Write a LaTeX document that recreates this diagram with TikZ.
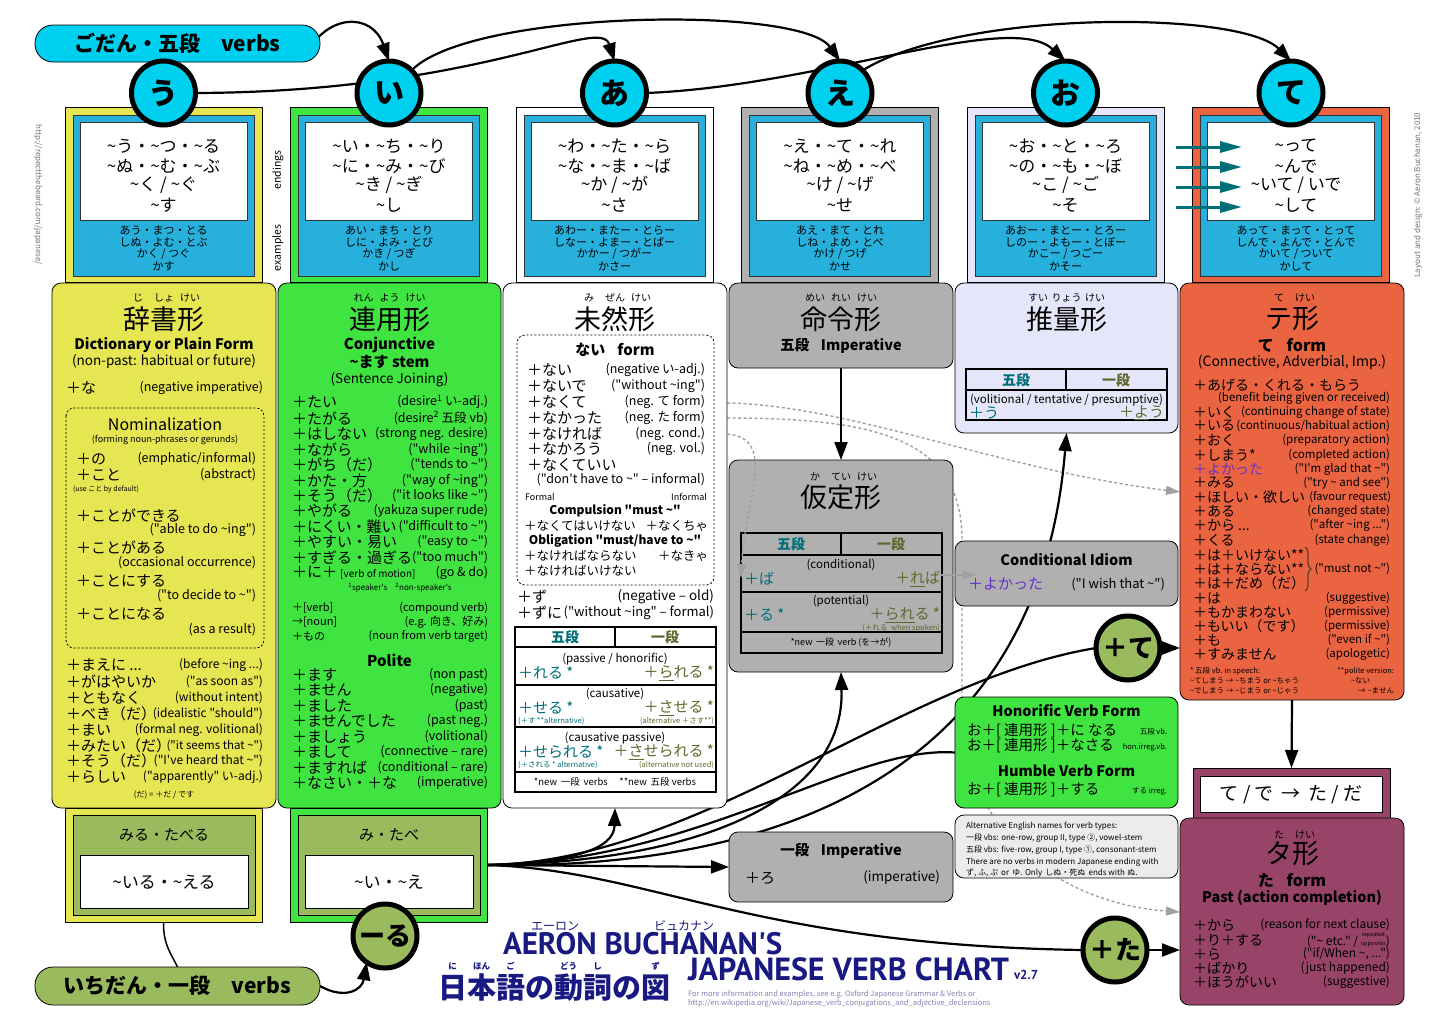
\documentclass[tikz,border=0pt]{standalone}
\usepackage{fontspec}
\setmainfont{Noto Sans CJK JP}[Ligatures=TeXOff]
\newfontfamily\ttl{PT Sans}[Ligatures=TeXOff]
\usetikzlibrary{arrows.meta,decorations.pathreplacing,calc}
\newcommand\fs[1]{\fontsize{#1}{#1}\selectfont}
\newcommand\tld{\textasciitilde}
\definecolor{cyanc}{RGB}{0,208,240}
\definecolor{bluef}{RGB}{40,176,220}
\definecolor{yel}{RGB}{230,230,82}
\definecolor{grn}{RGB}{64,228,64}
\definecolor{gry}{RGB}{176,176,176}
\definecolor{lav}{RGB}{230,230,250}
\definecolor{org}{RGB}{235,100,66}
\definecolor{mar}{RGB}{152,68,104}
\definecolor{oli}{RGB}{153,187,94}
\definecolor{tealc}{RGB}{0,110,120}
\definecolor{olt}{RGB}{95,105,45}
\definecolor{pur}{RGB}{100,50,200}
\definecolor{navy}{RGB}{25,25,130}
\definecolor{altg}{RGB}{236,236,236}
\definecolor{dgray}{RGB}{160,160,160}
\definecolor{urlc}{RGB}{130,130,180}
\pgfdeclarelayer{back}\pgfdeclarelayer{bg}\pgfsetlayers{back,bg,main}
\tikzset{
 every node/.style={inner sep=0pt,outer sep=0pt},
 lt/.style={anchor=west}, rt/.style={anchor=east},
 jl/.style={anchor=west,font=\fs{15}}, er/.style={anchor=east,font=\fs{12.5}},
 mbox/.style={draw=black,line width=0.8pt,rounded corners=9pt,anchor=north west},
 frame/.style={draw=black,line width=0.7pt,anchor=north west},
 circ/.style={circle,draw=black,line width=5pt,fill=cyanc,minimum size=64pt,font=\fs{30}\bfseries},
 gcirc/.style={circle,draw=black,line width=5pt,fill=oli,minimum size=64pt,font=\fs{26}\bfseries},
 conn/.style={draw=black,line width=2.2pt,-{Triangle[length=18pt,width=13pt]}},
 plainc/.style={draw=black,line width=2.2pt},
 dgl/.style={draw=dgray,line width=1.4pt,dash pattern=on 3pt off 2.5pt,-{Triangle[length=14pt,width=9pt,fill=dgray]}},
 ruby/.style={font=\fs{10}},
 kanji/.style={font=\fs{27}},
 hd/.style={font=\fs{14.5}\bfseries},
 tarrow/.style={draw=tealc,line width=3pt,-{Triangle[length=22pt,width=11pt]}}
}
\newcommand\topbox[3]{%
 \node[frame,fill=#3,minimum width=197pt,minimum height=175pt] (#1) at (#2,107) {};
 \node[frame,draw=black!80,line width=0.6pt,fill=bluef,minimum width=181pt,minimum height=161pt] (#1b) at ({#2+8},115) {};
 \node[frame,draw=black!80,line width=0.6pt,fill=white,minimum width=167pt,minimum height=98pt] (#1w) at ({#2+15},122) {};}
\newcommand\colends[9]{%
 \node[font=\fs{17}] at (#1,146) {#2};
 \node[font=\fs{17}] at (#1,166) {#3};
 \node[font=\fs{17}] at (#1,185) {#4};
 \node[font=\fs{17}] at (#1,205) {#5};
 \node[font=\fs{11}] at (#1,230) {#6};
 \node[font=\fs{11}] at (#1,242) {#7};
 \node[font=\fs{11}] at (#1,254) {#8};
 \node[font=\fs{11}] at (#1,266) {#9};}
\begin{document}
\begin{tikzpicture}[x=1pt,y=-1pt,font=\fs{13}]
\useasboundingbox (0,0) rectangle (1456,1029);
\begin{pgfonlayer}{back}\fill[white] (0,0) rectangle (1456,1029);\end{pgfonlayer}

% ---------- top frames ----------
\topbox{t1}{65}{yel}
\topbox{t2}{290.5}{grn}
\topbox{t3}{516}{white}
\topbox{t4}{741.5}{gry}
\topbox{t5}{967}{lav}
\topbox{t6}{1192.5}{org}
\colends{163.5}{\tld{}う・\tld{}つ・\tld{}る}{\tld{}ぬ・\tld{}む・\tld{}ぶ}{\tld{}く / \tld{}ぐ}{\tld{}す}{あう・まつ・とる}{しぬ・よむ・とぶ}{かく / つぐ}{かす}
\colends{389}{\tld{}い・\tld{}ち・\tld{}り}{\tld{}に・\tld{}み・\tld{}び}{\tld{}き / \tld{}ぎ}{\tld{}し}{あい・まち・とり}{しに・よみ・とび}{かき / つぎ}{かし}
\colends{614.5}{\tld{}わ・\tld{}た・\tld{}ら}{\tld{}な・\tld{}ま・\tld{}ば}{\tld{}か / \tld{}が}{\tld{}さ}{あわー・またー・とらー}{しなー・よまー・とばー}{かかー / つがー}{かさー}
\colends{840}{\tld{}え・\tld{}て・\tld{}れ}{\tld{}ね・\tld{}め・\tld{}べ}{\tld{}け / \tld{}げ}{\tld{}せ}{あえ・まて・とれ}{しね・よめ・とべ}{かけ / つげ}{かせ}
\colends{1065.5}{\tld{}お・\tld{}と・\tld{}ろ}{\tld{}の・\tld{}も・\tld{}ぼ}{\tld{}こ / \tld{}ご}{\tld{}そ}{あおー・まとー・とろー}{しのー・よもー・とぼー}{かこー / つごー}{かそー}
\colends{1296}{\tld{}って}{\tld{}んで}{\tld{}いて / いで}{\tld{}して}{あって・まって・とって}{しんで・よんで・とんで}{かいて / ついて}{かして}

% side texts
\node[rotate=-90,font=\fs{8},text=black!55] (url) at (38,195) {http://repectthebeard.com/japanese/};
\node[rotate=90,font=\fs{10.5}] (endl) at (278,170) {endings};
\node[rotate=90,font=\fs{10.5}] (exl) at (278,248) {examples};
\node[rotate=90,font=\fs{8},text=black!55] (cpy) at (1418,195) {Layout and design: © Aeron Buchanan, 2010};

% ---------- pills ----------
\node[draw=black,line width=0.8pt,fill=cyanc,rounded corners=18pt,minimum width=285pt,minimum height=37pt,font=\fs{21}\bfseries] (godan) at (177.5,43.5) {ごだん・五段\hspace{1em}verbs};
\node[draw=black,line width=0.8pt,fill=oli,rounded corners=18pt,minimum width=285pt,minimum height=38pt,font=\fs{21}\bfseries] (ichi) at (177.5,986) {いちだん・一段\hspace{1em}verbs};

% ---------- main boxes ----------
\node[mbox,fill=yel,minimum width=224pt,minimum height=525pt] (jisho) at (52,283) {};
\node[mbox,fill=grn,minimum width=223pt,minimum height=525pt] (renyo) at (278,283) {};
\node[mbox,fill=white,minimum width=224pt,minimum height=525pt] (mizen) at (503,283) {};
\node[mbox,fill=gry,minimum width=224pt,minimum height=85pt] (meirei) at (729,283) {};
\node[mbox,fill=gry,minimum width=224pt,minimum height=212pt] (katei) at (729,460) {};
\node[mbox,fill=lav,minimum width=223pt,minimum height=150pt] (suiryo) at (955,283) {};
\node[mbox,fill=org,minimum width=224pt,minimum height=417pt] (te6) at (1180,283) {};
\node[mbox,fill=gry,minimum width=223pt,minimum height=65pt] (cond) at (955,541) {};
\node[mbox,fill=grn,minimum width=223pt,minimum height=111pt] (hon) at (955,697) {};
\node[mbox,fill=altg,minimum width=223pt,minimum height=63pt] (alt) at (955,815) {};
\node[mbox,fill=gry,minimum width=224pt,minimum height=70pt] (imp) at (729,832) {};
\node[frame,fill=mar,minimum width=197pt,minimum height=56pt] (tapre) at (1193,768) {};
\node[frame,fill=white,minimum width=182pt,minimum height=36pt] (taprew) at (1200,776) {};
\node[mbox,fill=mar,minimum width=224pt,minimum height=187pt] (ta) at (1180,818) {};

% bottom ichidan frames
\node[frame,fill=yel,minimum width=197pt,minimum height=114pt] (b1) at (65,808) {};
\node[frame,fill=oli,minimum width=182pt,minimum height=100pt] (b1o) at (73,815) {};
\node[frame,fill=white,minimum width=168pt,minimum height=53pt] (b1w) at (80,855) {};
\node[frame,fill=grn,minimum width=197pt,minimum height=114pt] (b2) at (290,808) {};
\node[frame,fill=oli,minimum width=182pt,minimum height=100pt] (b2o) at (298,815) {};
\node[frame,fill=white,minimum width=168pt,minimum height=53pt] (b2w) at (305,855) {};
\node[font=\fs{15}] at (164,835) {みる・たべる};
\node[font=\fs{17}] at (164,882) {\tld{}いる・\tld{}える};
\node[font=\fs{15}] at (389,835) {み・たべ};
\node[font=\fs{17}] at (389,882) {\tld{}い・\tld{}え};

% ---------- column 1 : 辞書形 ----------
\node[ruby] at (138,298) {じ};\node[ruby] at (164,298) {しょ};\node[ruby] at (190,298) {けい};
\node[kanji] at (164,319) {辞書形};
\node[hd] at (164,345) {Dictionary or Plain Form};
\node[font=\fs{13.5}] at (164,362) {(non-past: habitual or future)};
\node[jl] at (66,388) {＋な};\node[er] at (263,388) {(negative imperative)};
\draw[line width=0.8pt,dash pattern=on 2pt off 2pt,rounded corners=8pt] (66,408) rectangle (264,648);
\node[font=\fs{16}] at (165,424) {Nominalization};
\node[font=\fs{9}] at (165,440) {(forming noun-phrases or gerunds)};
\node[jl] at (76,459) {＋の};\node[er] at (256,459) {(emphatic/informal)};
\node[jl] at (76,475) {＋こと};\node[er] at (256,475) {(abstract)};
\node[lt,font=\fs{7}] at (73,489) {(use こと by default)};
\node[jl] at (76,516) {＋ことができる};\node[er] at (256,530) {("able to do \tld{}ing")};
\node[jl] at (76,548) {＋ことがある};\node[er] at (256,563) {(occasional occurrence)};
\node[jl] at (76,581) {＋ことにする};\node[er] at (256,596) {("to decide to \tld{}")};
\node[jl] at (76,614) {＋ことになる};\node[er] at (256,630) {(as a result)};
\node[jl] at (66,665) {＋まえに ...};\node[er,font=\fs{12}] at (263,665) {(before \tld{}ing ...)};
\node[jl] at (66,682) {＋がはやいか};\node[er,font=\fs{12}] at (263,682) {("as soon as")};
\node[jl] at (66,698) {＋ともなく};\node[er,font=\fs{12}] at (263,698) {(without intent)};
\node[jl] at (66,714) {＋べき（だ）};\node[er,font=\fs{12}] at (263,714) {(idealistic "should")};
\node[jl] at (66,730) {＋まい};\node[er,font=\fs{12}] at (263,730) {(formal neg. volitional)};
\node[jl] at (66,746) {＋みたい（だ）};\node[er,font=\fs{11.5}] at (263,746) {("it seems that \tld{}")};
\node[jl] at (66,761) {＋そう（だ）};\node[er,font=\fs{12}] at (263,761) {("I've heard that \tld{}")};
\node[jl] at (66,777) {＋らしい};\node[er,font=\fs{12}] at (263,777) {("apparently" い-adj.)};
\node[font=\fs{8}] at (164,795) {(だ) = ＋だ / です};

% ---------- column 2 : 連用形 ----------
\node[ruby] at (363.5,298) {れん};\node[ruby] at (389.5,298) {よう};\node[ruby] at (415.5,298) {けい};
\node[kanji] at (389.5,319) {連用形};
\node[font=\fs{15}\bfseries] at (389.5,345) {Conjunctive};
\node[font=\fs{15}\bfseries] at (389.5,362) {\tld{}ます stem};
\node[font=\fs{13.5}] at (389.5,380) {(Sentence Joining)};
\node[jl] at (292,402) {＋たい};\node[er] at (488,402) {(desire\textsuperscript{1} い-adj.)};
\node[jl] at (292,418) {＋たがる};\node[er] at (488,418) {(desire\textsuperscript{2} 五段 vb)};
\node[jl] at (292,434) {＋はしない};\node[er] at (488,434) {(strong neg. desire)};
\node[jl] at (292,450) {＋ながら};\node[er] at (488,450) {("while \tld{}ing")};
\node[jl] at (292,465) {＋がち（だ）};\node[er] at (488,465) {("tends to \tld{}")};
\node[jl] at (292,481) {＋かた・方};\node[er] at (488,481) {("way of \tld{}ing")};
\node[jl] at (292,496) {＋そう（だ）};\node[er] at (488,496) {("it looks like \tld{}")};
\node[jl] at (292,511) {＋やがる};\node[er] at (488,511) {(yakuza super rude)};
\node[jl] at (292,527) {＋にくい・難い};\node[er] at (488,527) {("difficult to \tld{}")};
\node[jl] at (292,542) {＋やすい・易い};\node[er] at (488,542) {("easy to \tld{}")};
\node[jl] at (292,558) {＋すぎる・過ぎる};\node[er] at (488,558) {("too much")};
\node[jl] at (292,573) {＋に＋ {\fs{10}[verb of motion]}};\node[er] at (488,573) {(go \& do)};
\node[font=\fs{8}] at (400,588) {\textsuperscript{1}speaker's\quad\textsuperscript{2}non-speaker's};
\node[lt,font=\fs{11}] at (292,608) {＋[verb]};\node[rt,font=\fs{11}] at (488,608) {(compound verb)};
\node[lt,font=\fs{11}] at (292,622) {→[noun]};\node[rt,font=\fs{11}] at (488,622) {(e.g. 向き、好み)};
\node[lt,font=\fs{11}] at (292,636) {＋もの};\node[rt,font=\fs{11}] at (488,636) {(noun from verb target)};
\node[font=\fs{15}\bfseries] at (389.5,660) {Polite};
\node[jl] at (292,675) {＋ます};\node[er] at (488,675) {(non past)};
\node[jl] at (292,690) {＋ません};\node[er] at (488,690) {(negative)};
\node[jl] at (292,706) {＋ました};\node[er] at (488,706) {(past)};
\node[jl] at (292,721) {＋ませんでした};\node[er] at (488,721) {(past neg.)};
\node[jl] at (292,737) {＋ましょう};\node[er] at (488,737) {(volitional)};
\node[jl] at (292,752) {＋まして};\node[er] at (488,752) {(connective – rare)};
\node[jl] at (292,768) {＋ますれば};\node[er] at (488,768) {(conditional – rare)};
\node[jl] at (292,783) {＋なさい・＋な};\node[er] at (488,783) {(imperative)};

% ---------- column 3 : 未然形 ----------
\node[ruby] at (589,298) {み};\node[ruby] at (615,298) {ぜん};\node[ruby] at (641,298) {けい};
\node[kanji] at (615,319) {未然形};
\draw[line width=0.8pt,dash pattern=on 2pt off 2pt,rounded corners=8pt] (517,335) rectangle (714,585);
\node[font=\fs{15}\bfseries] at (615,350) {ない\hspace{0.8em}form};
\node[jl] at (527,370) {＋ない};\node[er] at (705,370) {(negative い-adj.)};
\node[jl] at (527,386) {＋ないで};\node[er] at (705,386) {("without \tld{}ing")};
\node[jl] at (527,402) {＋なくて};\node[er] at (705,402) {(neg. て form)};
\node[jl] at (527,418) {＋なかった};\node[er] at (705,418) {(neg. た form)};
\node[jl] at (527,434) {＋なければ};\node[er] at (705,434) {(neg. cond.)};
\node[jl] at (527,449) {＋なかろう};\node[er] at (705,449) {(neg. vol.)};
\node[jl] at (527,465) {＋なくていい};
\node[er] at (705,480) {("don't have to \tld{}" – informal)};
\node[lt,font=\fs{9}] at (525,497) {Formal};\node[rt,font=\fs{9}] at (707,497) {Informal};
\node[font=\fs{12}\bfseries] at (615,511) {Compulsion "must \tld{}"};
\node[lt,font=\fs{12.5}] at (524,526) {＋なくてはいけない};\node[rt,font=\fs{12.5}] at (708,526) {＋なくちゃ};
\node[font=\fs{12}\bfseries] at (615,541) {Obligation "must/have to \tld{}"};
\node[lt,font=\fs{12.5}] at (524,556) {＋なければならない};\node[rt,font=\fs{12.5}] at (708,556) {＋なきゃ};
\node[lt,font=\fs{12.5}] at (524,571) {＋なければいけない};
\node[jl] at (517,597) {＋ず};\node[er,font=\fs{13.5}] at (714,597) {(negative – old)};
\node[jl] at (517,613) {＋ずに};\node[er,font=\fs{13}] at (714,613) {("without \tld{}ing" – formal)};
% table
\draw[line width=1.4pt,fill=white] (515,627) rectangle (716,792);
\draw[line width=1.2pt] (515,647) -- (716,647) (615,627) -- (615,647) (515,685) -- (716,685) (515,727) -- (716,727) (515,772) -- (716,772);
\node[font=\fs{14}\bfseries,text=tealc] at (565,637) {五段};
\node[font=\fs{14}\bfseries,text=olt] at (665,637) {一段};
\node[font=\fs{11.5}] at (615,659) {(passive / honorific)};
\node[lt,font=\fs{15},text=tealc] at (518,673) {＋れる *};
\node[rt,font=\fs{15},text=olt] at (714,673) {＋\underline{ら}れる *};
\node[font=\fs{11.5}] at (615,694) {(causative)};
\node[lt,font=\fs{15},text=tealc] at (518,708) {＋せる *};
\node[rt,font=\fs{15},text=olt] at (714,708) {＋\underline{さ}せる *};
\node[lt,font=\fs{7.5},text=tealc] at (518,721) {(＋す **alternative)};
\node[rt,font=\fs{7.5},text=olt] at (714,721) {(alternative ＋さす**)};
\node[font=\fs{11.5}] at (615,738) {(causative passive)};
\node[lt,font=\fs{15},text=tealc] at (518,752) {＋せられる *};
\node[rt,font=\fs{15},text=olt] at (714,752) {＋\underline{さ}せられる *};
\node[lt,font=\fs{7.5},text=tealc] at (518,765) {(＋される * alternative)};
\node[rt,font=\fs{7.5},text=olt] at (714,765) {(alternative not used)};
\node[font=\fs{9.5}] at (615,782) {*new\hspace{0.4em}一段\hspace{0.4em}verbs\hspace{1.2em}**new\hspace{0.4em}五段 verbs};

% ---------- column 4 ----------
\node[ruby] at (815,298) {めい};\node[ruby] at (841,298) {れい};\node[ruby] at (867,298) {けい};
\node[kanji] at (841,319) {命令形};
\node[hd] at (841,346) {五段\hspace{0.8em}Imperative};
\node[ruby] at (815,477) {か};\node[ruby] at (841,477) {てい};\node[ruby] at (867,477) {けい};
\node[kanji] at (841,497) {仮定形};
\draw[line width=1.4pt] (741,533) rectangle (942,653);
\draw[line width=1.2pt] (741,555) -- (942,555) (841,533) -- (841,555) (741,592) -- (942,592) (741,632) -- (942,632);
\node[font=\fs{14}\bfseries,text=tealc] at (791,544) {五段};
\node[font=\fs{14}\bfseries,text=olt] at (891,544) {一段};
\node[font=\fs{11.5}] at (841,565) {(conditional)};
\node[lt,font=\fs{15},text=tealc] at (744,579) {＋ば};
\node[rt,font=\fs{15},text=olt] at (940,579) {＋\underline{れ}ば};
\node[font=\fs{11.5}] at (841,601) {(potential)};
\node[lt,font=\fs{15},text=tealc] at (744,615) {＋る *};
\node[rt,font=\fs{15},text=olt] at (940,615) {＋\underline{られ}る *};
\node[rt,font=\fs{7.5},text=olt] at (940,628) {(＋れる\hspace{0.5em}when spoken)};
\node[font=\fs{9}] at (841,643) {*new\hspace{0.4em}一段\hspace{0.4em}verb (を→が)};
\node[hd] at (841,851) {一段\hspace{0.8em}Imperative};
\node[jl] at (745,878) {＋ろ};
\node[er,font=\fs{13.5}] at (940,878) {(imperative)};

% ---------- column 5 ----------
\node[ruby] at (1038,298) {すい};\node[ruby] at (1066.5,298) {りょう};\node[ruby] at (1095,298) {けい};
\node[kanji] at (1066.5,319) {推量形};
\draw[line width=1.4pt] (966,369) rectangle (1167,420);
\draw[line width=1.2pt] (966,390) -- (1167,390) (1066,369) -- (1066,390);
\node[font=\fs{14}\bfseries,text=tealc] at (1016,380) {五段};
\node[font=\fs{14}\bfseries,text=olt] at (1116,380) {一段};
\node[font=\fs{11.5}] at (1066.5,400) {(volitional / tentative / presumptive)};
\node[lt,font=\fs{15},text=tealc] at (969,413) {＋う};
\node[rt,font=\fs{15},text=olt] at (1164,413) {＋\underline{よ}う};
\node[hd] at (1066.5,560) {Conditional Idiom};
\node[lt,font=\fs{15},text=pur] at (968,584) {＋よかった};
\node[rt,font=\fs{13}] at (1165,584) {("I wish that \tld{}")};
\node[hd] at (1066.5,711) {Honorific Verb Form};
\node[lt,font=\fs{14.5}] at (967,731) {お＋[ 連用形 ]＋に なる};\node[rt,font=\fs{7.5}] at (1167,732) {五段 vb.};
\node[lt,font=\fs{14.5}] at (967,746) {お＋[ 連用形 ]＋なさる};\node[rt,font=\fs{7.5}] at (1167,747) {hon.irreg.vb.};
\node[hd] at (1066.5,771) {Humble Verb Form};
\node[lt,font=\fs{14.5}] at (967,790) {お＋[ 連用形 ]＋する};\node[rt,font=\fs{7.5}] at (1167,791) {する irreg.};
\node[lt,font=\fs{8}] at (966,826) {Alternative English names for verb types:};
\node[lt,font=\fs{8}] at (966,838) {一段 vbs: one-row, group II, type ②, vowel-stem};
\node[lt,font=\fs{8}] at (966,850) {五段 vbs: five-row, group I, type ①, consonant-stem};
\node[lt,font=\fs{8}] at (966,862) {There are no verbs in modern Japanese ending with};
\node[lt,font=\fs{8}] at (966,873) {ず, ふ, ぷ\hspace{0.4em}or\hspace{0.4em}ゆ. Only\hspace{0.4em}しぬ・死ぬ\hspace{0.4em}ends with\hspace{0.3em}ぬ.};

% ---------- column 6 : テ形 ----------
\node[ruby] at (1279,298) {て};\node[ruby] at (1305,298) {けい};
\node[kanji] at (1292,319) {テ形};
\node[font=\fs{16}\bfseries] at (1292,345) {て\hspace{0.8em}form};
\node[font=\fs{14}] at (1292,362) {(Connective, Adverbial, Imp.)};
\tikzset{kl/.style={anchor=west,font=\fs{14}},kr/.style={anchor=east,font=\fs{11.5}}}
\node[kl] at (1193,385) {＋あげる・くれる・もらう};
\node[kr] at (1390,398) {(benefit being given or received)};
\node[kl] at (1193,412) {＋いく};\node[kr] at (1390,412) {(continuing change of state)};
\node[kl] at (1193,426) {＋いる};\node[kr] at (1390,426) {(continuous/habitual action)};
\node[kl] at (1193,440) {＋おく};\node[kr] at (1390,440) {(preparatory action)};
\node[kl] at (1193,455) {＋しまう*};\node[kr] at (1390,455) {(completed action)};
\node[kl,text=pur] at (1193,469) {＋よかった};\node[kr] at (1390,469) {("I'm glad that \tld{}")};
\node[kl] at (1193,483) {＋みる};\node[kr] at (1390,483) {("try \tld{} and see")};
\node[kl] at (1193,497) {＋ほしい・欲しい};\node[kr,font=\fs{11}] at (1391,497) {(favour request)};
\node[kl] at (1193,511) {＋ある};\node[kr] at (1390,511) {(changed state)};
\node[kl] at (1193,525) {＋から ...};\node[kr] at (1390,525) {("after \tld{}ing ...")};
\node[kl] at (1193,540) {＋くる};\node[kr] at (1390,540) {(state change)};
\node[kl] at (1193,555) {＋は＋いけない**};
\node[kl] at (1193,569) {＋は＋ならない**};
\node[kl] at (1193,583) {＋は＋だめ（だ）};
\node[kr] at (1390,569) {("must not \tld{}")};
\draw[decorate,decoration={brace,amplitude=6pt},line width=1.3pt,draw=brown!50!black] (1305,547) -- (1305,591);
\node[kl] at (1193,598) {＋は};\node[kr] at (1390,598) {(suggestive)};
\node[kl] at (1193,612) {＋もかまわない};\node[kr] at (1390,612) {(permissive)};
\node[kl] at (1193,626) {＋もいい（です）};\node[kr] at (1390,626) {(permissive)};
\node[kl] at (1193,640) {＋も};\node[kr] at (1390,640) {("even if \tld{}")};
\node[kl] at (1193,654) {＋すみません};\node[kr] at (1390,654) {(apologetic)};
\node[lt,font=\fs{7.5}] at (1190,671) {* 五段 vb. in speech:};
\node[lt,font=\fs{7.5}] at (1190,681) {\tld{}てしまう → \tld{}ちまう or \tld{}ちゃう};
\node[lt,font=\fs{7.5}] at (1190,691) {\tld{}でしまう → \tld{}じまう or \tld{}じゃう};
\node[rt,font=\fs{7.5}] at (1394,671) {**polite version:};
\node[rt,font=\fs{7.5}] at (1370,681) {\tld{}ない};
\node[rt,font=\fs{7.5}] at (1394,691) {→\hspace{0.3em}\tld{}ません};

% ---------- タ形 ----------
\node[font=\fs{19}] at (1291,795) {て / で\hspace{0.4em}→\hspace{0.4em}た / だ};
\node[ruby] at (1279,835) {た};\node[ruby] at (1305,835) {けい};
\node[kanji] at (1292,854) {タ形};
\node[font=\fs{16}\bfseries] at (1292,880) {た\hspace{0.8em}form};
\node[font=\fs{14.5}\bfseries] at (1292,898) {Past (action completion)};
\node[kl] at (1193,925) {＋から};\node[kr,font=\fs{12}] at (1390,925) {(reason for next clause)};
\node[kl] at (1193,940) {＋り＋する};\node[kr,font=\fs{12}] at (1390,940) {("\tld{} etc." / {\fs{5.5}\shortstack{repeated\\opposites}})};
\node[kl] at (1193,954) {＋ら};\node[kr,font=\fs{12}] at (1390,954) {("if/When \tld{}, ...")};
\node[kl] at (1193,968) {＋ばかり};\node[kr,font=\fs{12}] at (1390,968) {(just happened)};
\node[kl] at (1193,982) {＋ほうがいい};\node[kr,font=\fs{12}] at (1390,982) {(suggestive)};

% ---------- circles ----------
\node[circ] (cu) at (163.5,93) {う};
\node[circ] (ci) at (389,93) {い};
\node[circ] (ca) at (614.5,93) {あ};
\node[circ] (ce) at (840,93) {え};
\node[circ] (co) at (1065.5,93) {お};
\node[circ] (ct) at (1291,93) {て};
\node[gcirc] (pte) at (1128,648) {＋て};
\node[gcirc] (pta) at (1115,950) {＋た};
\node[gcirc] (ru) at (385,936) {ーる};

% ---------- title ----------
\node[font=\fs{12},text=navy] at (555,926) {エーロン};
\node[font=\fs{12},text=navy] at (684,926) {ビュカナン};
\node[lt,font=\ttl\fs{31}\bfseries,text=navy] (t1) at (503,944) {AERON BUCHANAN'S};
\node[lt,font=\ttl\fs{32}\bfseries,text=navy] (t2) at (688,969) {JAPANESE VERB CHART};
\node[lt,font=\ttl\fs{13}\bfseries,text=navy] (t3) at (1014,975) {v2.7};
\node[lt,font=\fs{29}\bfseries,text=navy] (t4) at (438,988) {日本語の動詞の図};
\foreach \xx/\rr in {452.5/に,481.5/ほん,510.5/ご,568.5/どう,597.5/し,655.5/ず}
  \node[font=\fs{8.5}\bfseries,text=navy] at (\xx,966) {\rr};
\node[lt,font=\fs{7.5},text=urlc] (t5) at (688,994) {For more information and examples, see e.g. Oxford Japanese Grammar \& Verbs or};
\node[lt,font=\fs{7.5},text=urlc] (t6) at (688,1003) {http://en.wikipedia.org/wiki/Japanese\_verb\_conjugations\_and\_adjective\_declensions};

% ---------- coordinates ----------
\coordinate (gstart) at (303,60);
\coordinate (nakute) at (727,403);
\coordinate (nakatta) at (727,418);
\coordinate (nakereba) at (727,434);
\coordinate (teIn) at (1180,492);
\coordinate (taIn) at (1180,912);
\coordinate (kIn) at (741,578);
\coordinate (gA) at (940,575);
\coordinate (gB) at (976,575);
\foreach \yy/\nn in {147/1,167/2,187/3,207/4}{
  \coordinate (ta\nn) at (1176,\yy);
  \coordinate (tb\nn) at (1242,\yy);}

% ---------- connectors behind ----------
\begin{pgfonlayer}{bg}
\draw[conn] (gstart) .. controls (325,12) and (372,12) .. (ci.north);
\draw[conn] (cu.east) .. controls (480,92) and (600,15) .. (ca.north);
\draw[conn] (ci.north east) .. controls (470,10) and (800,5) .. (ce.north);
\draw[conn] (ca.east) .. controls (820,86) and (1010,10) .. (co.north);
\draw[conn] (ce.north east) .. controls (960,10) and (1240,10) .. (ct.north);
\draw[dgl] (nakute) .. controls (850,405) and (1000,470) .. (teIn);
\draw[dgl] (nakatta) .. controls (880,418) and (962,440) .. (962,540) -- (962,700) .. controls (962,850) and (1080,905) .. (taIn);
\draw[conn] (b2.east) .. controls (570,862) and (614,850) .. (mizen.south);
\draw[conn] (b2.east) .. controls (700,862) and (845,800) .. (katei.south);
\draw[conn] (b2.east) .. controls (800,870) and (1040,760) .. (suiryo.south);
\draw[plainc] (b2.east) .. controls (700,862) and (850,745) .. (hon.west);
\draw[plainc] (b2.east) .. controls (700,862) and (900,680) .. (pte.west);
\draw[plainc] (b2.east) .. controls (650,870) and (750,945) .. (pta.west);
\draw[plainc,line width=1.5pt] (b1.south) .. controls (163,945) and (172,955) .. (ichi.north);
\end{pgfonlayer}

% ---------- connectors on top ----------
\draw[conn] (b2.east) -- (imp.west);
\draw[conn] (ichi.east) .. controls (345,1000) and (362,990) .. (ru.235);
\draw[conn] (meirei.south) -- (katei.north);
\draw[conn] (te6.south) -- (tapre.north);
\draw[conn] (pte.east) -- (pte.east -| te6.west);
\draw[conn] (pta.east) -- (pta.east -| ta.west);
\draw[dgl] (nakereba) .. controls (778,438) and (745,500) .. (kIn);
\draw[draw=dgray,line width=1.5pt,-{Triangle[length=13pt,width=8pt,fill=dgray]}] (gA) -- (gB);
\foreach \nn in {1,2,3,4}\draw[tarrow] (ta\nn) -- (tb\nn);
\end{tikzpicture}
\end{document}
